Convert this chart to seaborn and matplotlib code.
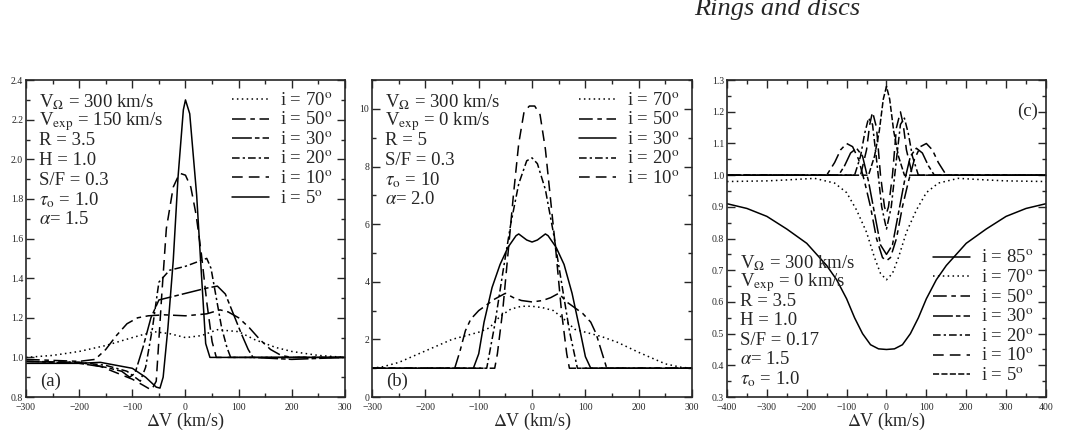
import seaborn as sns
import matplotlib.pyplot as plt
from matplotlib.ticker import MultipleLocator

# ---------------- panel (a) : V_exp = 150 km/s ----------------
a_x70 = [-300, -250, -200, -150, -100, -60, -30, 0, 30, 60, 100, 130, 170, 200, 250, 300]
a_y70 = [1.0, 1.01, 1.03, 1.06, 1.10, 1.13, 1.12, 1.10, 1.11, 1.14, 1.13, 1.09, 1.05, 1.03, 1.01, 1.0]
a_x50 = [-300, -200, -170, -150, -130, -110, -90, -70, -40, 0, 40, 65, 80, 100, 120, 140, 160, 180, 200, 300]
a_y50 = [0.99, 0.98, 0.99, 1.04, 1.11, 1.17, 1.20, 1.21, 1.215, 1.21, 1.22, 1.24, 1.23, 1.20, 1.15, 1.09, 1.04, 1.01, 1.0, 1.0]
a_x30 = [-300, -200, -150, -120, -105, -95, -80, -65, -50, -20, 10, 40, 60, 75, 90, 105, 118, 127, 200, 300]
a_y30 = [0.98, 0.97, 0.95, 0.93, 0.90, 0.92, 1.05, 1.20, 1.29, 1.31, 1.33, 1.35, 1.36, 1.32, 1.22, 1.12, 1.04, 1.0, 0.99, 1.0]
a_x20 = [-300, -200, -150, -110, -95, -85, -75, -62, -50, -30, 0, 30, 40, 48, 58, 68, 78, 85, 300]
a_y20 = [0.98, 0.975, 0.96, 0.93, 0.90, 0.88, 0.95, 1.15, 1.38, 1.44, 1.46, 1.49, 1.50, 1.45, 1.30, 1.15, 1.05, 1.0, 1.0]
a_x10 = [-300, -200, -160, -100, -80, -64, -55, -45, -36, -23, -11, 0, 10, 20, 30, 40, 50, 58, 100, 200, 300]
a_y10 = [0.98, 0.975, 0.955, 0.89, 0.86, 0.835, 0.88, 1.30, 1.65, 1.86, 1.93, 1.92, 1.86, 1.72, 1.52, 1.28, 1.08, 1.0, 1.0, 1.0, 1.0]
a_x5 = [-300, -200, -160, -100, -75, -55, -48, -42, -33, -23, -14, -4, 0, 8, 21, 30, 38, 46, 100, 200, 300]
a_y5 = [0.97, 0.97, 0.975, 0.945, 0.90, 0.85, 0.845, 0.90, 1.15, 1.49, 1.91, 2.25, 2.30, 2.23, 1.82, 1.42, 1.07, 1.0, 1.0, 1.0, 1.0]

# ---------------- panel (b) : V_exp = 0 km/s ----------------
b_x70 = [-300, -280, -250, -200, -150, -120, -100, -80, -60, -40, -20, 0, 20, 40, 60, 80, 100, 130, 160, 200, 250, 280, 300]
b_y70 = [1.0, 1.05, 1.2, 1.6, 2.0, 2.15, 2.25, 2.4, 2.8, 3.05, 3.15, 3.15, 3.1, 3.0, 2.7, 2.35, 2.25, 2.1, 1.9, 1.55, 1.15, 1.03, 1.0]
b_x50 = [-300, -145, -135, -125, -115, -100, -85, -70, -55, -50, -35, -20, 0, 20, 35, 50, 55, 65, 80, 95, 110, 120, 130, 140, 300]
b_y50 = [1.0, 1.0, 1.6, 2.3, 2.7, 3.0, 3.2, 3.4, 3.55, 3.6, 3.45, 3.35, 3.3, 3.35, 3.45, 3.6, 3.5, 3.3, 3.1, 2.9, 2.6, 2.2, 1.6, 1.0, 1.0]
b_x30 = [-300, -110, -100, -90, -75, -60, -45, -30, -25, -10, 0, 10, 25, 30, 45, 60, 75, 90, 100, 110, 300]
b_y30 = [1.0, 1.0, 1.5, 2.6, 3.8, 4.6, 5.2, 5.6, 5.66, 5.45, 5.38, 5.45, 5.66, 5.6, 5.2, 4.6, 3.6, 2.3, 1.4, 1.0, 1.0]
b_x20 = [-300, -85, -70, -55, -40, -25, -10, 0, 10, 25, 40, 55, 70, 85, 300]
b_y20 = [1.0, 1.0, 2.5, 4.3, 6.0, 7.4, 8.2, 8.3, 8.1, 7.2, 5.7, 4.0, 2.3, 1.0, 1.0]
b_x10 = [-300, -70, -65, -55, -45, -35, -25, -15, -5, 5, 15, 25, 35, 45, 55, 65, 70, 300]
b_y10 = [1.0, 1.0, 1.5, 3.0, 5.0, 7.0, 8.8, 9.9, 10.1, 10.1, 9.8, 8.6, 6.8, 5.0, 3.0, 1.5, 1.0, 1.0]

# ---------------- panel (c) : V_exp = 0 km/s, S/F = 0.17 ----------------
c_x85 = [-400, -350, -300, -250, -200, -150, -125, -100, -80, -60, -40, -20, 0, 20, 40, 60, 80, 100, 125, 150, 200, 250, 300, 350, 400]
c_y85 = [0.91, 0.895, 0.87, 0.83, 0.785, 0.715, 0.67, 0.61, 0.55, 0.50, 0.465, 0.452, 0.45, 0.452, 0.465, 0.50, 0.55, 0.61, 0.67, 0.715, 0.785, 0.83, 0.87, 0.895, 0.91]
c_x70 = [-400, -300, -250, -180, -130, -100, -75, -50, -30, -15, 0, 15, 30, 50, 75, 100, 130, 180, 250, 300, 400]
c_y70 = [0.98, 0.982, 0.985, 0.99, 0.975, 0.945, 0.89, 0.82, 0.74, 0.69, 0.67, 0.69, 0.74, 0.82, 0.89, 0.945, 0.975, 0.99, 0.985, 0.982, 0.98]
c_x50 = [-400, -150, -130, -115, -100, -85, -70, -55, -40, -25, -10, 0, 10, 25, 40, 55, 70, 85, 100, 115, 130, 150, 400]
c_y50 = [1.0, 1.0, 1.04, 1.08, 1.10, 1.09, 1.05, 0.98, 0.90, 0.80, 0.74, 0.73, 0.74, 0.80, 0.90, 0.98, 1.05, 1.09, 1.10, 1.08, 1.04, 1.0, 1.0]
c_x30 = [-400, -120, -105, -90, -75, -60, -45, -30, -15, 0, 15, 30, 45, 60, 75, 90, 105, 120, 400]
c_y30 = [1.0, 1.0, 1.03, 1.07, 1.085, 1.06, 0.98, 0.88, 0.78, 0.75, 0.78, 0.88, 0.98, 1.06, 1.085, 1.07, 1.03, 1.0, 1.0]
c_x20 = [-400, -80, -65, -55, -45, -35, -25, -12, 0, 12, 25, 35, 45, 55, 65, 80, 400]
c_y20 = [1.0, 1.0, 1.06, 1.13, 1.18, 1.16, 1.05, 0.90, 0.83, 0.90, 1.05, 1.16, 1.18, 1.13, 1.06, 1.0, 1.0]
c_x10 = [-400, -65, -50, -42, -35, -25, -15, -5, 0, 5, 15, 25, 35, 42, 50, 65, 400]
c_y10 = [1.0, 1.0, 1.08, 1.16, 1.20, 1.15, 1.0, 0.90, 0.88, 0.90, 1.0, 1.15, 1.20, 1.16, 1.08, 1.0, 1.0]
c_x5 = [-400, -45, -30, -18, -8, 0, 8, 18, 30, 45, 400]
c_y5 = [1.0, 1.0, 1.06, 1.14, 1.24, 1.28, 1.24, 1.14, 1.06, 1.0, 1.0]

a_text = ["V$_\\Omega$ = 300 km/s", "V$_{\\rm exp}$ = 150 km/s", "R = 3.5", "H = 1.0",
          "S/F = 0.3", "$\\tau_{\\rm o}$ = 1.0", "$\\alpha$= 1.5"]
b_text = ["V$_\\Omega$ = 300 km/s", "V$_{\\rm exp}$ = 0 km/s", "R = 5", "S/F = 0.3",
          "$\\tau_{\\rm o}$ = 10", "$\\alpha$= 2.0"]
c_text = ["V$_\\Omega$ = 300 km/s", "V$_{\\rm exp}$ = 0 km/s", "R = 3.5", "H = 1.0",
          "S/F = 0.17", "$\\alpha$= 1.5", "$\\tau_{\\rm o}$ = 1.0"]

# line styles per inclination
styles = {
    85: '-',
    70: (0, (1, 2.2)),
    50: (0, (9, 3, 3, 3)),
    30: (0, (13, 2, 3, 2)),
    20: (0, (5, 2, 1.5, 2)),
    10: (0, (7, 4)),
    5: '-',
}

sns.set_style('ticks')
plt.rcParams['font.family'] = ['Liberation Serif', 'DejaVu Serif']
plt.rcParams['mathtext.fontset'] = 'stix'

FS = 13.5

fig = plt.figure(figsize=(10.74, 4.30), dpi=100)
ax_a = fig.add_axes([0.0242, 0.0767, 0.297, 0.737])
ax_b = fig.add_axes([0.3464, 0.0767, 0.298, 0.737])
ax_c = fig.add_axes([0.6769, 0.0767, 0.297, 0.737])


def draw(ax, x, y, inc, ls=None):
    sns.lineplot(x=x, y=y, ax=ax, color='black', linewidth=1.1,
                 linestyle=ls if ls is not None else styles[inc],
                 label='i = %d$^{\\rm o}$' % inc, sort=False)


draw(ax_a, a_x70, a_y70, 70)
draw(ax_a, a_x50, a_y50, 50)
draw(ax_a, a_x30, a_y30, 30)
draw(ax_a, a_x20, a_y20, 20)
draw(ax_a, a_x10, a_y10, 10)
draw(ax_a, a_x5, a_y5, 5)

draw(ax_b, b_x70, b_y70, 70)
draw(ax_b, b_x50, b_y50, 50)
draw(ax_b, b_x30, b_y30, 30, ls='-')
draw(ax_b, b_x20, b_y20, 20)
draw(ax_b, b_x10, b_y10, 10)

draw(ax_c, c_x85, c_y85, 85)
draw(ax_c, c_x70, c_y70, 70)
draw(ax_c, c_x50, c_y50, 50)
draw(ax_c, c_x30, c_y30, 30)
draw(ax_c, c_x20, c_y20, 20)
draw(ax_c, c_x10, c_y10, 10)
draw(ax_c, c_x5, c_y5, 5, ls=(0, (4, 1.5)))

# axes limits and ticks
ax_a.set_xlim(-300, 300)
ax_a.set_ylim(0.8, 2.4)
ax_a.xaxis.set_major_locator(MultipleLocator(100))
ax_a.xaxis.set_minor_locator(MultipleLocator(50))
ax_a.yaxis.set_major_locator(MultipleLocator(0.2))
ax_a.yaxis.set_minor_locator(MultipleLocator(0.1))
ax_a.yaxis.set_major_formatter(plt.FormatStrFormatter('%.1f'))

ax_b.set_xlim(-300, 300)
ax_b.set_ylim(0, 11)
ax_b.xaxis.set_major_locator(MultipleLocator(100))
ax_b.xaxis.set_minor_locator(MultipleLocator(50))
ax_b.yaxis.set_major_locator(MultipleLocator(2))
ax_b.yaxis.set_minor_locator(MultipleLocator(1))

ax_c.set_xlim(-400, 400)
ax_c.set_ylim(0.3, 1.3)
ax_c.xaxis.set_major_locator(MultipleLocator(100))
ax_c.xaxis.set_minor_locator(MultipleLocator(50))
ax_c.yaxis.set_major_locator(MultipleLocator(0.1))
ax_c.yaxis.set_minor_locator(MultipleLocator(0.05))
ax_c.yaxis.set_major_formatter(plt.FormatStrFormatter('%.1f'))

for ax in (ax_a, ax_b, ax_c):
    ax.tick_params(which='both', direction='in', top=True, right=True,
                   labelsize=7, width=1.0)
    ax.tick_params(axis='x', pad=4)
    ax.tick_params(axis='y', pad=2)
    ax.tick_params(which='major', length=6)
    ax.tick_params(which='minor', length=3)
    for sp in ax.spines.values():
        sp.set_linewidth(1.2)
    ax.set_xlabel('$\\Delta$V (km/s)', fontsize=13, labelpad=-0.5)
    ax.set_ylabel('')

# legends
leg_kw = dict(frameon=False, fontsize=FS, handlelength=2.0, handletextpad=0.6,
              labelspacing=0.11, borderaxespad=0.25)
ax_a.legend(loc='upper right', **leg_kw)
ax_b.legend(loc='upper right', **leg_kw)
ax_c.legend(loc='lower right', **leg_kw)

# parameter blocks
for i, t in enumerate(a_text):
    ax_a.text(0.04, 0.932 - i * 0.062, t, transform=ax_a.transAxes, fontsize=FS, va='center')
for i, t in enumerate(b_text):
    ax_b.text(0.04, 0.932 - i * 0.062, t, transform=ax_b.transAxes, fontsize=FS, va='center')
for i, t in enumerate(c_text):
    ax_c.text(0.04, 0.423 - i * 0.061, t, transform=ax_c.transAxes, fontsize=FS, va='center')

ax_a.text(0.045, 0.05, '(a)', transform=ax_a.transAxes, fontsize=FS, va='center')
ax_b.text(0.045, 0.05, '(b)', transform=ax_b.transAxes, fontsize=FS, va='center')
ax_c.text(0.975, 0.90, '(c)', transform=ax_c.transAxes, fontsize=FS, va='center', ha='right')

fig.text(0.801, 0.965, 'Rings and discs', ha='right', va='baseline',
         fontsize=19, style='italic', family='Liberation Serif')

plt.savefig('out.png', dpi=100)
